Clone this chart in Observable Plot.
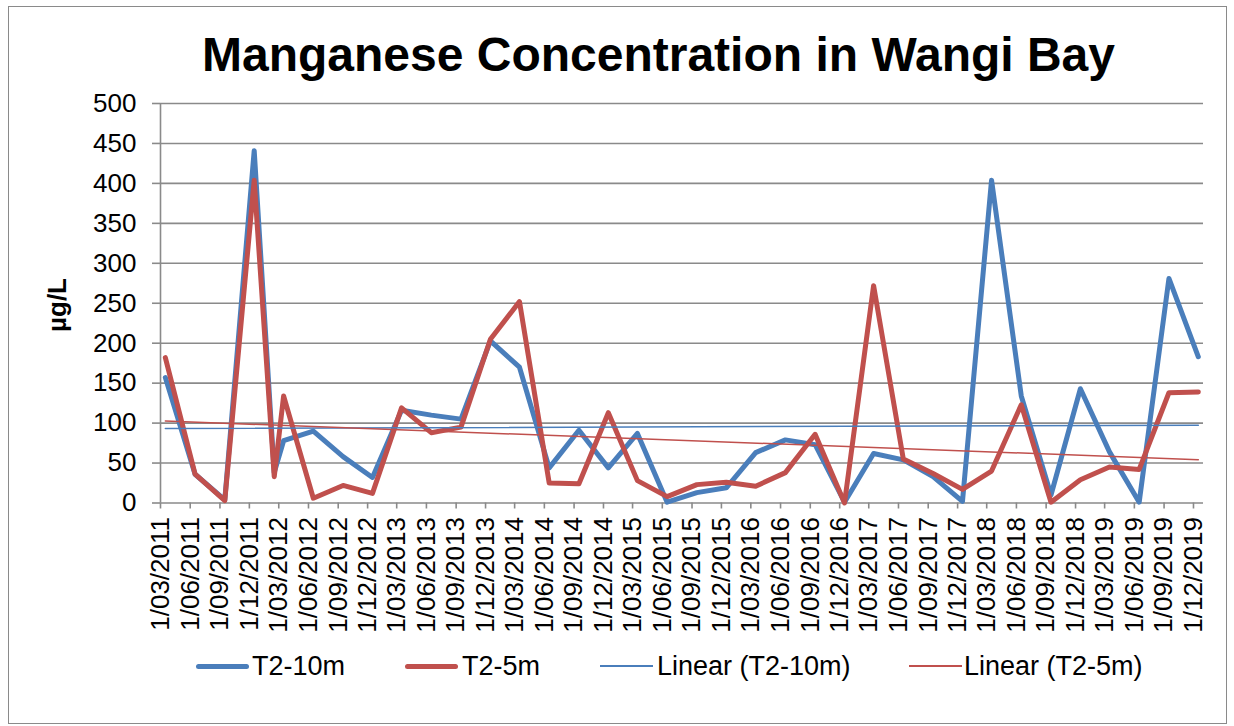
<!DOCTYPE html>
<html>
<head>
<meta charset="utf-8">
<script src="https://cdn.jsdelivr.net/npm/d3@7"></script>
<script src="https://cdn.jsdelivr.net/npm/@observablehq/plot@0.6"></script>
<style>
  html, body { margin: 0; padding: 0; background: #fff; }
  #wrap { position: relative; width: 1234px; height: 726px; overflow: hidden; font-family: "Liberation Sans", Arial, sans-serif; color: #000; }
  #border { position: absolute; left: 8px; top: 6px; width: 1219px; height: 718px; border: 1.5px solid #8a8a8a; box-sizing: border-box; }
  #title { position: absolute; left: 0; width: 1317px; top: 31px; text-align: center; font-size: 48px; line-height: 48px; font-weight: bold; white-space: nowrap; }
  #ylab { position: absolute; left: 57px; top: 305px; transform: translate(-50%, -50%) rotate(-90deg); font-size: 26px; font-weight: bold; white-space: nowrap; }
  #chart { position: absolute; left: 0; top: 0; }
  .leg { position: absolute; top: 651px; font-size: 27px; line-height: 30px; white-space: nowrap; }
  .sw { position: absolute; }
</style>
</head>
<body>
<div id="wrap">
  <div id="border"></div>
  <div id="chart"></div>
  <div id="title">Manganese Concentration in Wangi Bay</div>
  <div id="ylab">µg/L</div>
  <div id="legend"></div>
</div>
<script>
// Sampling months (quarterly, plus Feb 2012)
const months = ["2011-03","2011-06","2011-09","2011-12","2012-02","2012-03","2012-06","2012-09","2012-12",
  "2013-03","2013-06","2013-09","2013-12","2014-03","2014-06","2014-09","2014-12",
  "2015-03","2015-06","2015-09","2015-12","2016-03","2016-06","2016-09","2016-12",
  "2017-03","2017-06","2017-09","2017-12","2018-03","2018-06","2018-09","2018-12",
  "2019-03","2019-06","2019-09","2019-12"];
// T2-10m (µg/L)
const t2_10m = [157, 36, 4, 441, 38, 78, 90, 58, 32,
  116, 110, 105, 203, 170, 44, 91, 44,
  87, 1, 13, 19, 63, 79, 73, 1,
  62, 54, 33, 2, 404, 134, 10, 143,
  64, 1, 281, 183];
// T2-5m (µg/L)
const t2_5m = [182, 36, 3, 404, 33, 134, 6, 22, 12,
  119, 88, 95, 205, 252, 25, 24, 113,
  28, 8, 23, 26, 21, 38, 86, 0,
  272, 55, 37, 17, 40, 123, 1, 29,
  45, 42, 138, 139];
const yTicks = [0, 50, 100, 150, 200, 250, 300, 350, 400, 450, 500];
const seriesNames = ["T2-10m", "T2-5m", "Linear (T2-10m)", "Linear (T2-5m)"];
const colors = ["#4a7ebb", "#c0504d"];

// Points sit in the middle of their month (Excel month-based date axis)
const toDate = s => { const [y, m] = s.split("-").map(Number); return new Date(Date.UTC(y, m - 1, 16)); };
const blueRows = months.map((m, i) => ({date: toDate(m), value: t2_10m[i]}));
const redRows = months.map((m, i) => ({date: toDate(m), value: t2_5m[i]}));
const xStart = new Date(Date.UTC(2011, 2, 1));
const xEnd = new Date(Date.UTC(2020, 0, 1));
const xTicks = d3.utcMonths(xStart, new Date(Date.UTC(2019, 11, 2)), 3);
const grid = "#8a8a8a";

const chart = Plot.plot({
  width: 1234,
  height: 726,
  marginTop: 103,
  marginBottom: 223.5,
  marginLeft: 160,
  marginRight: 31,
  style: {fontFamily: "'Liberation Sans', Arial, sans-serif", fontSize: "26px", color: "#000", background: "transparent"},
  x: {type: "utc", domain: [xStart, xEnd]},
  y: {domain: [0, 500]},
  marks: [
    Plot.gridY(yTicks, {stroke: grid, strokeWidth: 1.6, strokeOpacity: 1}),
    Plot.axisY({ticks: yTicks, tickSize: 8, tickPadding: 16, stroke: grid, strokeWidth: 1.6, label: null, fill: "#000"}),
    Plot.ruleX([xStart], {stroke: grid, strokeWidth: 1.6}),
    Plot.axisX({ticks: xTicks, tickFormat: d3.utcFormat("%-d/%m/%Y"), tickRotate: -90, tickSize: 6, tickPadding: 8, stroke: grid, strokeWidth: 1.6, label: null, fill: "#000"}),
    Plot.line(blueRows, {x: "date", y: "value", stroke: colors[0], strokeWidth: 5, strokeLinejoin: "round", strokeLinecap: "round"}),
    Plot.line(redRows, {x: "date", y: "value", stroke: colors[1], strokeWidth: 5, strokeLinejoin: "round", strokeLinecap: "round"}),
    Plot.linearRegressionY(blueRows, {x: "date", y: "value", stroke: colors[0], strokeWidth: 1.5, ci: 0}),
    Plot.linearRegressionY(redRows, {x: "date", y: "value", stroke: colors[1], strokeWidth: 1.5, ci: 0})
  ]
});
document.getElementById("chart").appendChild(chart);

// Legend
const legendItems = [
  {name: seriesNames[0], color: colors[0], w: 5, sx: 196, tx: 252},
  {name: seriesNames[1], color: colors[1], w: 5, sx: 405, tx: 462},
  {name: seriesNames[2], color: colors[0], w: 1.6, sx: 600, tx: 657},
  {name: seriesNames[3], color: colors[1], w: 1.6, sx: 909, tx: 964}
];
const legend = document.getElementById("legend");
for (const it of legendItems) {
  const sw = document.createElement("div");
  sw.className = "sw";
  sw.style.left = it.sx + "px";
  sw.style.width = "53px";
  sw.style.top = (666 - it.w / 2) + "px";
  sw.style.height = it.w + "px";
  sw.style.background = it.color;
  sw.style.borderRadius = it.w > 2 ? "3px" : "0";
  legend.appendChild(sw);
  const t = document.createElement("div");
  t.className = "leg";
  t.style.left = it.tx + "px";
  t.textContent = it.name;
  legend.appendChild(t);
}
</script>
</body>
</html>
